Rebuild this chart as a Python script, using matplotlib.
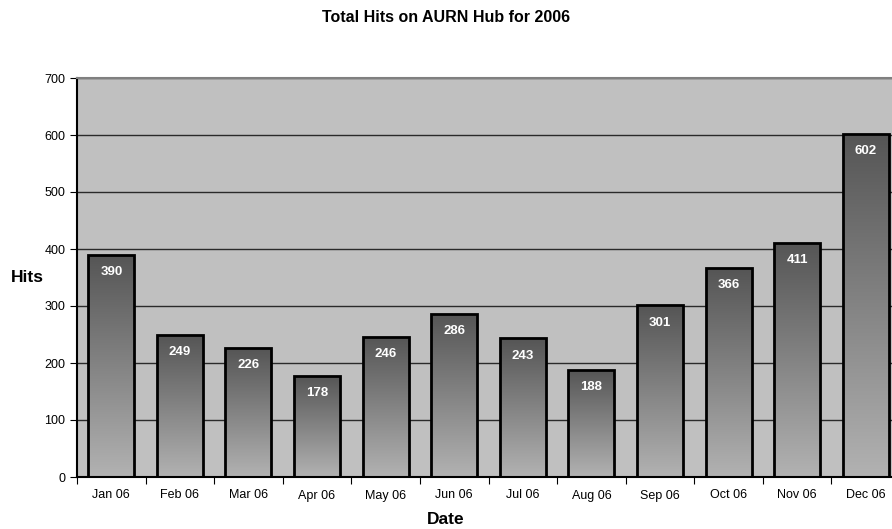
import numpy as np
import matplotlib
matplotlib.use("Agg")
import matplotlib.pyplot as plt
from matplotlib.colors import LinearSegmentedColormap

plt.rcParams['font.family'] = ['Liberation Sans', 'DejaVu Sans']

# monthly hits
months = ['Jan 06', 'Feb 06', 'Mar 06', 'Apr 06', 'May 06', 'Jun 06',
          'Jul 06', 'Aug 06', 'Sep 06', 'Oct 06', 'Nov 06', 'Dec 06']
hits = [390, 249, 226, 178, 246, 286, 243, 188, 301, 366, 411, 602]

fig = plt.figure(figsize=(8.92, 5.29), dpi=100)
# plot area runs off the right edge of the figure
ax = fig.add_axes([77 / 892, 52 / 529, 823 / 892, 399 / 529])
ax.set_facecolor('#c0c0c0')

x = np.arange(len(months))
barWidth = 0.67

ax.set_xlim(-0.5, len(months) - 0.5)
ax.set_ylim(0, 700)
ax.set_yticks(range(0, 701, 100))
ax.yaxis.grid(True, color='#2a2a2a', linewidth=1.0)
ax.set_axisbelow(True)

# dark-to-light gradient inside each bar
cmap = LinearSegmentedColormap.from_list('bar', ['#b2b2b2', '#555555'])
grad = np.linspace(0, 1, 256).reshape(-1, 1)
bars = ax.bar(x, hits, width=barWidth, color='none', edgecolor='black',
              linewidth=2, zorder=3)
for b in bars:
    x0, w, h = b.get_x(), b.get_width(), b.get_height()
    im = ax.imshow(grad, cmap=cmap, aspect='auto', origin='lower',
                   extent=[x0, x0 + w, 0, h], zorder=2)
    im.set_clip_path(b)
    ax.text(x0 + w / 2, h - 30, str(h), ha='center', va='center',
            color='white', fontsize=9.5, fontweight='bold', zorder=4)

ax.set_xlim(-0.5, len(months) - 0.5)
ax.set_ylim(0, 700)

# ticks between categories, labels centred under bars
ax.set_xticks(np.arange(-0.5, len(months), 1))
ax.set_xticklabels([])
ax.set_xticks(x, minor=True)
ax.set_xticklabels(months, minor=True, fontsize=9)
ax.tick_params(axis='x', which='minor', length=0, pad=9)
ax.tick_params(axis='x', which='major', length=5, direction='out')
ax.tick_params(axis='y', labelsize=9, length=5, direction='out')

for s in ['left', 'bottom']:
    ax.spines[s].set_color('black')
    ax.spines[s].set_linewidth(1.5)
ax.spines['top'].set_color('#808080')
ax.spines['top'].set_linewidth(1.5)
ax.spines['right'].set_visible(False)

fig.text(0.5, 1 - 18 / 529, 'Total Hits on AURN Hub for 2006', ha='center',
         va='center', fontsize=11.5, fontweight='bold')
fig.text(27 / 892, 1 - 277 / 529, 'Hits', ha='center', va='center',
         fontsize=12.5, fontweight='bold')
fig.text(0.5, 1 - 520 / 529, 'Date', ha='center', va='center',
         fontsize=12.5, fontweight='bold')

fig.savefig('out.png', dpi=100)
